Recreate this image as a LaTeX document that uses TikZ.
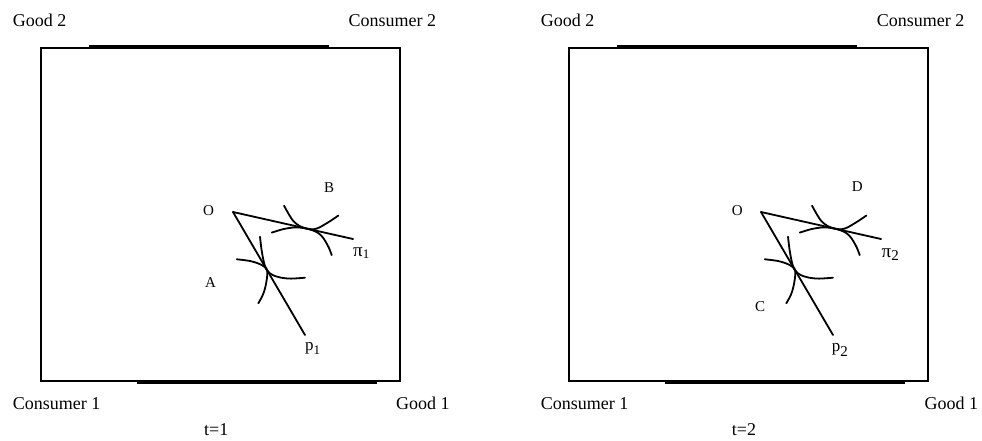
\documentclass[tikz,border=0pt]{standalone}
\usepackage{fontspec}
\setmainfont{Liberation Serif}
\usetikzlibrary{calc}
% subscript: size, lowering, text
\newcommand{\lowsub}[3]{\raisebox{-#2}{\fontsize{#1}{#1}\selectfont #3}}
\begin{document}
\begin{tikzpicture}[x=1pt,y=1pt,
  edge/.style={line width=2pt},
  curve/.style={line width=1.8pt, line cap=round},
  big/.style={inner sep=0pt, anchor=base west, font=\fontsize{18}{20}\selectfont},
  small/.style={inner sep=0pt, anchor=base west, font=\fontsize{15}{17}\selectfont},
  pilab/.style={inner sep=0pt, anchor=base west, font=\fontsize{19}{20}\selectfont},
  plab/.style={inner sep=0pt, anchor=base west, font=\fontsize{17}{19}\selectfont}]
\useasboundingbox (0,0) rectangle (982,440);
% two Edgeworth boxes, identical apart from their labels
\foreach \dx/\k in {0/1,528/2}{
  \begin{scope}[xshift=\dx pt]
    % box with the extra bars on top and bottom
    \draw[edge] (41,58.7) rectangle (400,392.3);
    \draw[edge] (89,394.4) -- (329,394.4);
    \draw[edge] (137.3,57) -- (376.7,57);
    % price lines from O
    \coordinate (O\k) at (233,228);
    \coordinate (pi\k) at (353,201);
    \coordinate (p\k) at (305,105);
    \draw[curve] (O\k) -- (pi\k);
    \draw[curve] (O\k) -- (p\k);
    % indifference curves tangent to the pi line
    \begin{scope}[shift={(308,211.1)}, rotate=-12.68]
      \draw[curve] plot[smooth] coordinates {(-28.5,17.4) (-22.7,10.9) (-16,4.4)
        (-9,1.0) (-2,0) (5,0.7) (10,3.3) (14.5,7.2) (21,13.6) (26.7,19.7)};
      \draw[curve] plot[smooth] coordinates {(-34.6,-11.6) (-24,-5.6) (-13,-1.4)
        (-3,0) (5,-0.4) (11,-1.8) (16,-4.8) (20,-8.6) (24.5,-13.8) (28.9,-20.4)};
    \end{scope}
    % indifference curves tangent to the p line
    \begin{scope}[shift={(266.4,171)}, rotate=-59.66]
      \draw[curve] plot[smooth] coordinates {(-23.4,-20.7) (-15.2,-10.1) (-8.5,-3.9)
        (-2.5,-0.4) (2.5,-0.4) (8.2,-4.2) (13.5,-8.6) (18.5,-13.6) (22,-18.3) (25.5,-24.3)};
      \draw[curve] plot[smooth] coordinates {(-31.1,10.8) (-20.2,6.0) (-10,2.2)
        (-3,0.2) (3,0.2) (8.5,2.4) (14.9,8.3) (20.8,16.5) (27,28.9)};
    \end{scope}
  \end{scope}
}
% labels, t=1
\node[big] (g2a) at (12.7,413.6) {Good 2};
\node[big] (c2a) at (348.3,413.4) {Consumer 2};
\node[big] (c1a) at (12.7,30.7) {Consumer 1};
\node[big] (g1a) at (396,30.7) {Good 1};
\node[big] (ta) at (204,4.7) {t=1};
\node[small] (oa) at (203,225) {O};
\node[small] (la) at (205,152.7) {A};
\node[small] (lb) at (324,248) {B};
\node[pilab] (lpia) at (353,184) {π\lowsub{13}{2pt}{1}};
\node[plab] (lpa) at (305,89.3) {p\lowsub{13}{4pt}{1}};
% labels, t=2
\node[big] (g2b) at (540.7,413.6) {Good 2};
\node[big] (c2b) at (876.7,413.4) {Consumer 2};
\node[big] (c1b) at (540.7,30.7) {Consumer 1};
\node[big] (g1b) at (924.3,30.7) {Good 1};
\node[big] (tb) at (731.7,4.7) {t=2};
\node[small] (ob) at (731.7,225) {O};
\node[small] (lc) at (755,129) {C};
\node[small] (ld) at (851.7,248.3) {D};
\node[pilab] (lpib) at (881.5,182.7) {π\lowsub{15}{3pt}{2}};
\node[plab] (lpb) at (831.7,88.3) {p\lowsub{15}{4.5pt}{2}};
\end{tikzpicture}
\end{document}
